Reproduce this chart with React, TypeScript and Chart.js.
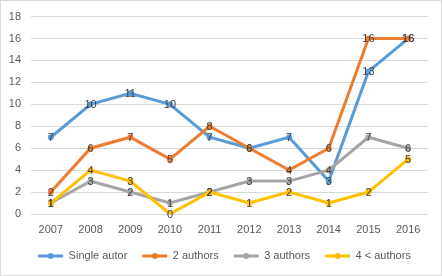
import React, { useEffect, useRef } from "react";
import { Chart, registerables } from "chart.js";

Chart.register(...registerables);

const years = ["2007", "2008", "2009", "2010", "2011", "2012", "2013", "2014", "2015", "2016"];
const singleAutor = [7, 10, 11, 10, 7, 6, 7, 3, 13, 16];
const twoAuthors = [2, 6, 7, 5, 8, 6, 4, 6, 16, 16];
const threeAuthors = [1, 3, 2, 1, 2, 3, 3, 4, 7, 6];
const fourPlusAuthors = [1, 4, 3, 0, 2, 1, 2, 1, 2, 5];
const seriesNames = ["Single autor", "2 authors", "3 authors", "4 < authors"];
const seriesColors = ["#5B9BD5", "#ED7D31", "#A5A5A5", "#FFC000"];

const FONT = "'Liberation Sans', Arial, sans-serif";

const frame = {
  id: "frame",
  beforeDraw(chart: any) {
    const { ctx, width, height } = chart;
    ctx.save();
    ctx.fillStyle = "#ffffff";
    ctx.fillRect(0, 0, width, height);
    ctx.strokeStyle = "#d9d9d9";
    ctx.lineWidth = 1;
    ctx.strokeRect(0.5, 0.5, width - 1, height - 1);
    ctx.restore();
  },
};

const dataLabels = {
  id: "dataLabels",
  afterDatasetsDraw(chart: any) {
    const ctx = chart.ctx;
    ctx.save();
    ctx.font = `11px ${FONT}`;
    ctx.fillStyle = "#404040";
    ctx.textAlign = "center";
    ctx.textBaseline = "middle";
    chart.data.datasets.forEach((ds: any, i: number) => {
      const meta = chart.getDatasetMeta(i);
      meta.data.forEach((pt: any, j: number) => {
        ctx.fillText(String(ds.data[j]), pt.x, pt.y + 0.5);
      });
    });
    ctx.restore();
  },
};

const legendMarkers = {
  id: "legendMarkers",
  afterDraw(chart: any) {
    const legend = chart.legend;
    if (!legend || !legend.legendHitBoxes) return;
    const ctx = chart.ctx;
    const boxWidth = legend.options.labels.boxWidth;
    ctx.save();
    legend.legendItems.forEach((item: any, i: number) => {
      const hb = legend.legendHitBoxes[i];
      const cx = hb.left + boxWidth / 2;
      const cy = hb.top + hb.height / 2;
      ctx.beginPath();
      ctx.arc(cx, cy, 3, 0, Math.PI * 2);
      ctx.fillStyle = seriesColors[item.datasetIndex];
      ctx.fill();
    });
    ctx.restore();
  },
};

export default function App() {
  const ref = useRef<HTMLCanvasElement | null>(null);

  useEffect(() => {
    document.body.style.margin = "0";
    const values = [singleAutor, twoAuthors, threeAuthors, fourPlusAuthors];
    const chart = new Chart(ref.current!, {
      type: "line",
      data: {
        labels: years,
        datasets: values.map((d, i) => ({
          label: seriesNames[i],
          data: d,
          borderColor: seriesColors[i],
          backgroundColor: seriesColors[i],
          borderWidth: 3,
          pointRadius: 3,
          pointBorderWidth: 0,
          pointBackgroundColor: seriesColors[i],
          tension: 0,
          order: 3 - i,
        })),
      },
      options: {
        responsive: false,
        animation: false,
        layout: { padding: { left: 7, top: 14, right: 0, bottom: 4.5 } },
        plugins: {
          tooltip: { enabled: false },
          legend: {
            position: "bottom",
            labels: {
              boxWidth: 25,
              boxHeight: 3,
              padding: 15,
              color: "#595959",
              font: { family: FONT, size: 11 },
              sort: (a: any, b: any) => a.datasetIndex - b.datasetIndex,
              generateLabels: (chart: any) =>
                chart.data.datasets.map((ds: any, i: number) => ({
                  text: ds.label,
                  fillStyle: seriesColors[i],
                  strokeStyle: seriesColors[i],
                  lineWidth: 0,
                  datasetIndex: i,
                  hidden: false,
                  fontColor: "#595959",
                })),
            },
          },
        },
        scales: {
          x: {
            offset: true,
            grid: { display: false, drawTicks: false },
            border: { display: false },
            ticks: {
              color: "#595959",
              font: { family: FONT, size: 11 },
              padding: 9,
              maxRotation: 0,
            },
            afterFit: (scale: any) => {
              scale.height = 21.5;
            },
          },
          y: {
            min: 0,
            max: 18,
            grid: { color: "#d9d9d9", drawTicks: false },
            border: { display: false },
            ticks: {
              stepSize: 2,
              color: "#595959",
              font: { family: FONT, size: 11 },
              padding: 10,
            },
            afterFit: (scale: any) => {
              scale.width = 24;
            },
          },
          yRight: {
            position: "right",
            min: 0,
            max: 18,
            grid: { display: false, drawTicks: false },
            border: { display: false },
            ticks: { display: false },
            afterFit: (scale: any) => {
              scale.width = 14;
            },
          },
        },
      },
      plugins: [frame, dataLabels, legendMarkers],
    });
    return () => chart.destroy();
  }, []);

  return (
    <div style={{ position: "absolute", left: 0, top: 0, width: 442, height: 276 }}>
      <canvas ref={ref} width={442} height={276} />
    </div>
  );
}
